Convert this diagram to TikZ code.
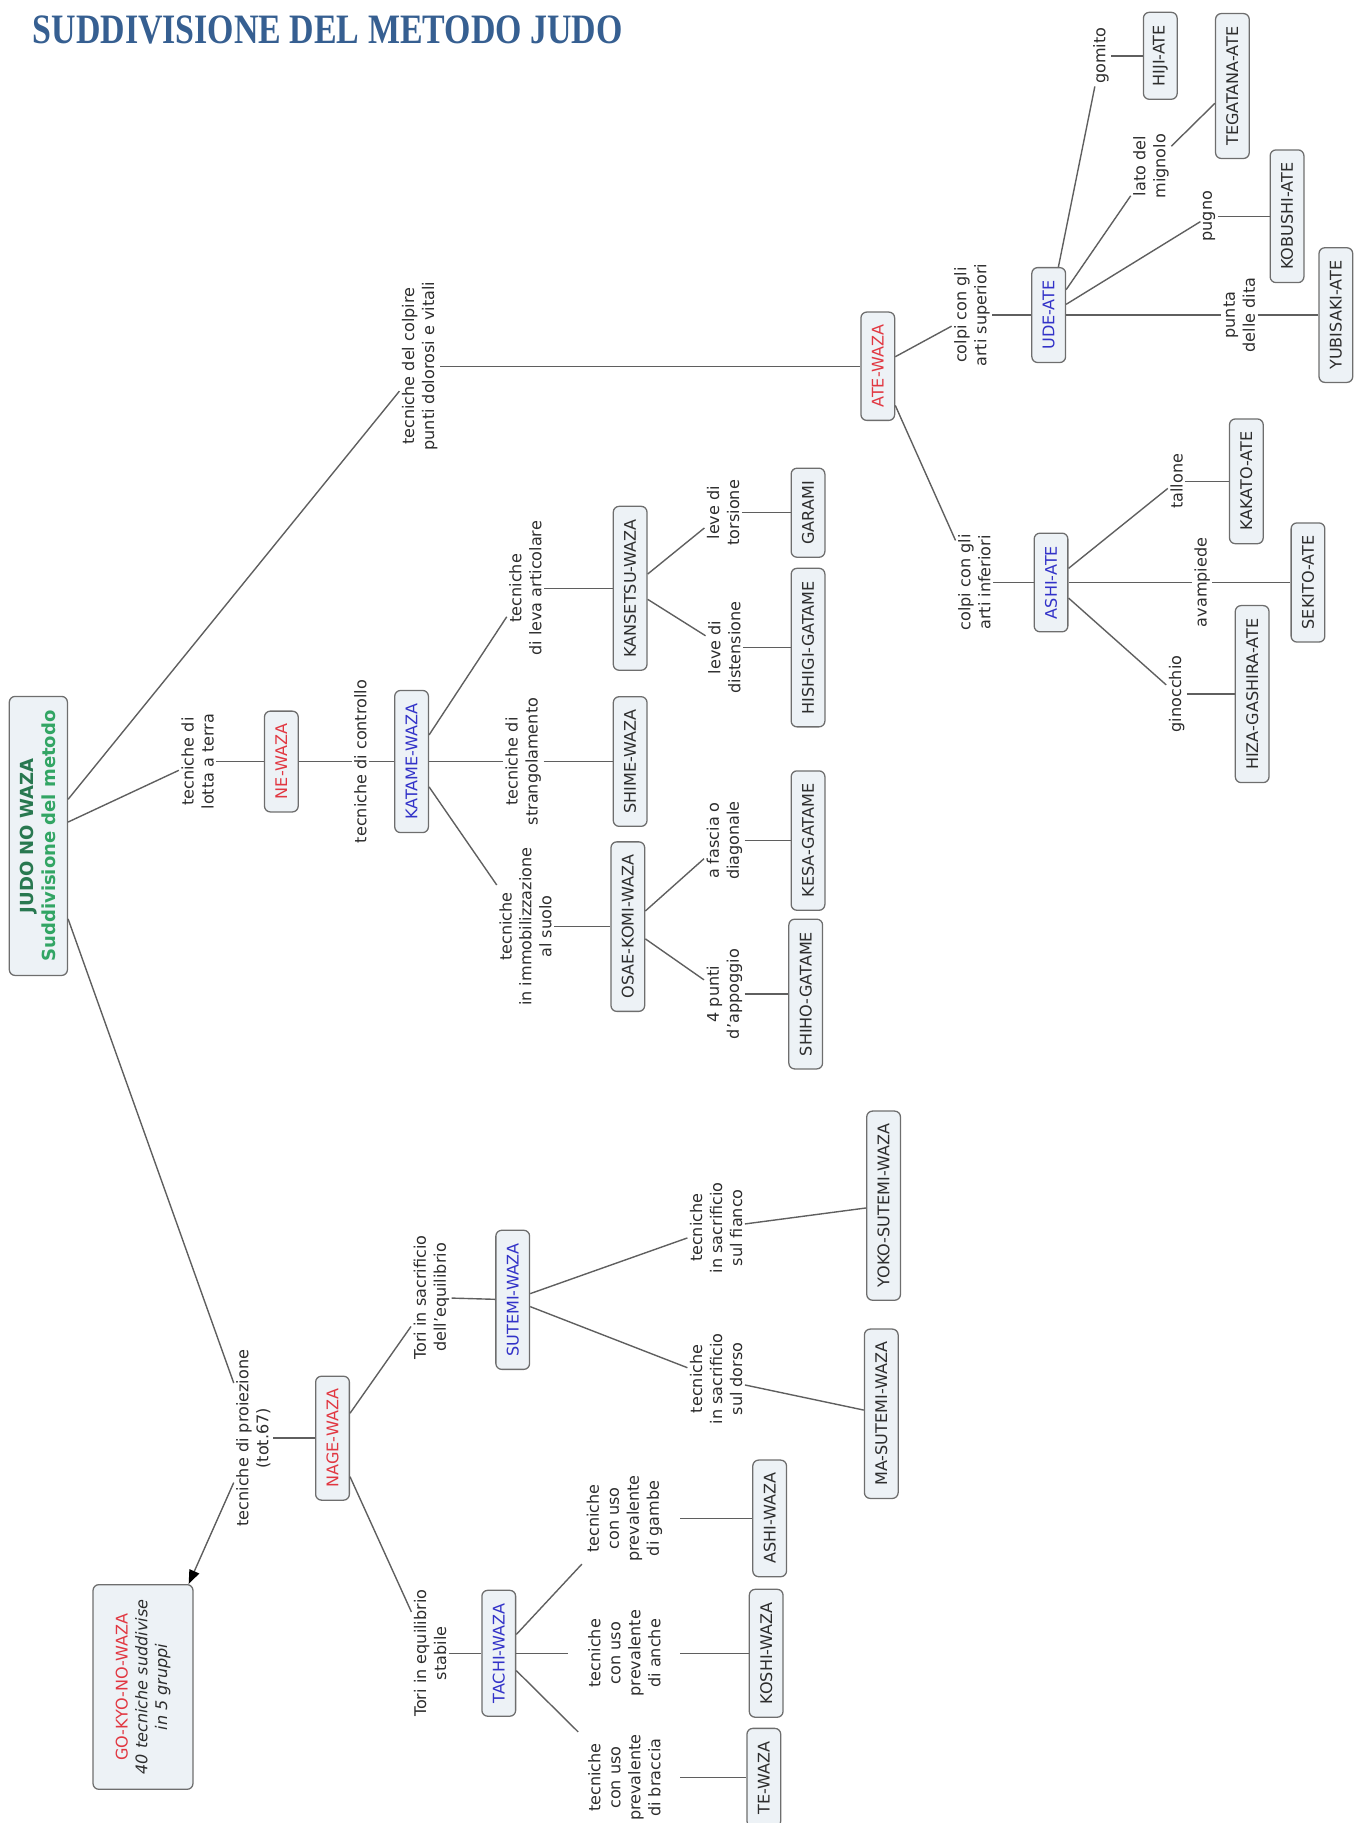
\documentclass[tikz,border=0pt]{standalone}
\usepackage{fontspec}
\usepackage{graphicx}
\setmainfont{DejaVu Sans}
\newfontfamily\titlefont{Liberation Serif}
\usetikzlibrary{arrows.meta}
\definecolor{linegray}{RGB}{95,95,95}
\definecolor{boxgray}{RGB}{110,110,110}
\definecolor{boxfill}{RGB}{237,242,246}
\definecolor{txtgray}{RGB}{45,45,45}
\definecolor{redtxt}{RGB}{225,55,65}
\definecolor{bluetxt}{RGB}{50,50,200}
\definecolor{judogreen}{RGB}{40,120,80}
\definecolor{subgreen}{RGB}{50,165,100}
\definecolor{titleblue}{RGB}{54,95,145}
\tikzset{
  lbl/.style={rotate=90, align=center, font=\fontsize{13.8}{17.2}\selectfont, text=txtgray, inner sep=2pt},
  lblwide/.style={lbl, minimum height=96pt},
  cpt/.style={rotate=90, draw=boxgray, fill=boxfill, rounded corners=5pt, line width=1.1pt,
    font=\fontsize{13.8}{16}\selectfont, text=txtgray, inner xsep=11pt, inner ysep=0pt, minimum height=29pt},
  cred/.style={cpt, text=redtxt},
  cblue/.style={cpt, text=bluetxt},
  conn/.style={draw=linegray, line width=1.2pt}
}
\begin{document}
\begin{tikzpicture}[x=1pt,y=-1pt]
\useasboundingbox (0,0) rectangle (1173,1568);
% title
\node[anchor=base west, inner sep=0pt, text=titleblue] (title) at (28,37)
  {\titlefont\bfseries\fontsize{36}{36}\selectfont\scalebox{0.81}[1]{SUDDIVISIONE DEL METODO JUDO}};
% root
\node[cpt, minimum width=240pt, minimum height=50pt, align=center, font=\bfseries\fontsize{15.5}{19}\selectfont] (root) at (33,719)
  {\textcolor{judogreen}{JUDO NO WAZA}\\\textcolor{subgreen}{Suddivisione del metodo}};
% first level labels
\node[lbl] (colpire) at (361,315) {tecniche del colpire\\punti dolorosi e vitali};
\node[lbl] (lotta) at (170,655) {tecniche di\\lotta a terra};
\node[lbl] (proiez) at (218,1237) {tecniche di proiezione\\(tot.67)};
% ne-waza branch
\node[cred] (ne) at (242,655) {NE-WAZA};
\node[lbl] (controllo) at (310,655) {tecniche di controllo};
\node[cblue] (katame) at (354,655) {KATAME-WAZA};
\node[lbl] (leva) at (452,506) {tecniche\\di leva articolare};
\node[cpt] (kansetsu) at (542,506) {KANSETSU-WAZA};
\node[lbl] (strang) at (450,655) {tecniche di\\strangolamento};
\node[cpt] (shime) at (542,655) {SHIME-WAZA};
\node[lbl] (immob) at (452,797) {tecniche\\in immobilizzazione\\al suolo};
\node[cpt] (osae) at (540,797) {OSAE-KOMI-WAZA};
\node[lbl] (torsione) at (622,441) {leve di\\torsione};
\node[cpt] (garami) at (695,441) {GARAMI};
\node[lbl] (distens) at (623,557) {leve di\\distensione};
\node[cpt] (hishigi) at (695,557) {HISHIGI-GATAME};
\node[lbl] (fascia) at (623,723) {a fascia o\\diagonale};
\node[cpt] (kesa) at (695,723) {KESA-GATAME};
\node[lbl] (punti) at (623,855) {4 punti\\d'appoggio};
\node[cpt] (shiho) at (693,855) {SHIHO-GATAME};
% ate-waza branch
\node[cred] (ate) at (755,315) {ATE-WAZA};
\node[lbl] (superiori) at (836,271) {colpi con gli\\arti superiori};
\node[cblue] (ude) at (902,271) {UDE-ATE};
\node[lbl] (gomito) at (947,48) {gomito};
\node[cpt] (hiji) at (998,48) {HIJI-ATE};
\node[lbl] (lato) at (990,143) {lato del\\mignolo};
\node[cpt] (tegatana) at (1060,74) {TEGATANA-ATE};
\node[lbl] (pugno) at (1040,186) {pugno};
\node[cpt] (kobushi) at (1107,186) {KOBUSHI-ATE};
\node[lbl] (punta) at (1066,271) {punta\\delle dita};
\node[cpt] (yubisaki) at (1149,271) {YUBISAKI-ATE};
\node[lbl] (inferiori) at (838,501) {colpi con gli\\arti inferiori};
\node[cblue] (ashiate) at (904,501) {ASHI-ATE};
\node[lbl] (tallone) at (1012,414) {tallone};
\node[cpt] (kakato) at (1072,414) {KAKATO-ATE};
\node[lbl] (avampiede) at (1034,501) {avampiede};
\node[cpt] (sekito) at (1125,501) {SEKITO-ATE};
\node[lbl] (ginocchio) at (1012,597) {ginocchio};
\node[cpt] (hiza) at (1077,597) {HIZA-GASHIRA-ATE};
% nage-waza branch
\node[cred] (nage) at (286,1237) {NAGE-WAZA};
\node[cpt, minimum width=176pt, minimum height=86pt, align=center, font=\fontsize{13.8}{17}\selectfont] (gokyo) at (123,1451)
  {\textcolor{redtxt}{GO-KYO-NO-WAZA}\\\textit{40 tecniche suddivise}\\\textit{in 5 gruppi}};
\node[lbl] (toris) at (371,1116) {Tori in sacrificio\\dell'equilibrio};
\node[cblue] (sutemi) at (441,1118) {SUTEMI-WAZA};
\node[lbl] (fianco) at (616,1056) {tecniche\\in sacrificio\\sul fianco};
\node[cpt] (yoko) at (760,1037) {YOKO-SUTEMI-WAZA};
\node[lbl] (dorso) at (616,1186) {tecniche\\in sacrificio\\sul dorso};
\node[cpt] (masutemi) at (758,1216) {MA-SUTEMI-WAZA};
\node[lbl] (torie) at (370,1422) {Tori in equilibrio\\stabile};
\node[cblue] (tachi) at (429,1422) {TACHI-WAZA};
\node[lblwide] (gambe) at (537,1306) {tecniche\\con uso\\prevalente\\di gambe};
\node[cpt] (ashiwaza) at (662,1306) {ASHI-WAZA};
\node[lblwide] (anche) at (537,1422) {tecniche\\con uso\\prevalente\\di anche};
\node[cpt] (koshi) at (659,1422) {KOSHI-WAZA};
\node[lblwide] (braccia) at (537,1529) {tecniche\\con uso\\prevalente\\di braccia};
\node[cpt] (tewaza) at (657,1529) {TE-WAZA};
% connectors
\draw[conn] (root) -- (colpire);
\draw[conn] (root) -- (lotta);
\draw[conn] (root) -- (proiez);
\draw[conn] (lotta) -- (ne);
\draw[conn] (ne) -- (controllo);
\draw[conn] (controllo) -- (katame);
\draw[conn] (katame) -- (leva);
\draw[conn] (leva) -- (kansetsu);
\draw[conn] (kansetsu) -- (torsione);
\draw[conn] (torsione) -- (garami);
\draw[conn] (kansetsu) -- (distens);
\draw[conn] (distens) -- (hishigi);
\draw[conn] (katame) -- (strang);
\draw[conn] (strang) -- (shime);
\draw[conn] (katame) -- (immob);
\draw[conn] (immob) -- (osae);
\draw[conn] (osae) -- (fascia);
\draw[conn] (fascia) -- (kesa);
\draw[conn] (osae) -- (punti);
\draw[conn] (punti) -- (shiho);
\draw[conn] (colpire) -- (ate);
\draw[conn] (ate) -- (superiori);
\draw[conn] (superiori) -- (ude);
\draw[conn] (ude) -- (gomito);
\draw[conn] (gomito) -- (hiji);
\draw[conn] (ude) -- (lato);
\draw[conn] (lato) -- (tegatana);
\draw[conn] (ude) -- (pugno);
\draw[conn] (pugno) -- (kobushi);
\draw[conn] (ude) -- (punta);
\draw[conn] (punta) -- (yubisaki);
\draw[conn] (ate) -- (inferiori);
\draw[conn] (inferiori) -- (ashiate);
\draw[conn] (ashiate) -- (tallone);
\draw[conn] (tallone) -- (kakato);
\draw[conn] (ashiate) -- (avampiede);
\draw[conn] (avampiede) -- (sekito);
\draw[conn] (ashiate) -- (ginocchio);
\draw[conn] (ginocchio) -- (hiza);
\draw[conn] (proiez) -- (nage);
\draw[conn, -{Triangle[length=12pt,width=9pt,black]}] (proiez) -- (gokyo);
\draw[conn] (nage) -- (toris);
\draw[conn] (toris) -- (sutemi);
\draw[conn] (sutemi) -- (fianco);
\draw[conn] (fianco) -- (yoko);
\draw[conn] (sutemi) -- (dorso);
\draw[conn] (dorso) -- (masutemi);
\draw[conn] (nage) -- (torie);
\draw[conn] (torie) -- (tachi);
\draw[conn] (tachi) -- (gambe);
\draw[conn] (gambe) -- (ashiwaza);
\draw[conn] (tachi) -- (anche);
\draw[conn] (anche) -- (koshi);
\draw[conn] (tachi) -- (braccia);
\draw[conn] (braccia) -- (tewaza);
\end{tikzpicture}
\end{document}
